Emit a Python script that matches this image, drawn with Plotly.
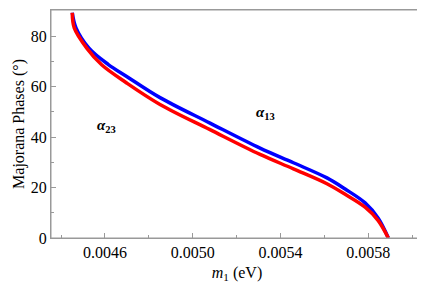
import plotly.graph_objects as go

# alpha_13 (blue)
m1_a13 = [0.004451, 0.004468, 0.004527, 0.004614, 0.004699, 0.004851, 0.005079,
          0.005307, 0.005459, 0.005612, 0.005695, 0.005786, 0.005845, 0.005892]
ph_a13 = [89.2, 83.2, 75.2, 68.8, 64.0, 55.6, 45.5, 35.6, 29.8, 23.8, 19.4, 13.9, 7.9, 0.0]

# alpha_23 (red)
m1_a23 = [0.004451, 0.004460, 0.004517, 0.004585, 0.004699, 0.004851, 0.005079,
          0.005307, 0.005459, 0.005612, 0.005695, 0.005786, 0.005845, 0.005892]
ph_a23 = [89.2, 83.2, 75.2, 68.6, 61.4, 52.9, 42.9, 33.1, 27.4, 21.5, 17.3, 12.2, 7.0, 0.0]

x_ticks = [0.0046, 0.0050, 0.0054, 0.0058]
x_tick_text = ["0.0046", "0.0050", "0.0054", "0.0058"]
y_ticks = [0, 20, 40, 60, 80]

font = "Liberation Serif"

fig = go.Figure()
fig.add_trace(go.Scatter(x=m1_a13, y=ph_a13, mode="lines",
                         line=dict(color="#0000ff", width=3.5, shape="spline", smoothing=1.0),
                         showlegend=False))
fig.add_trace(go.Scatter(x=m1_a23, y=ph_a23, mode="lines",
                         line=dict(color="#ff0000", width=3.5, shape="spline", smoothing=1.0),
                         showlegend=False))

fig.add_annotation(x=0.005330, y=49.5, text="<b><i>α</i><sub>13</sub></b>", showarrow=False,
                   font=dict(family=font, size=15, color="black"))
fig.add_annotation(x=0.004605, y=44.4, text="<b><i>α</i><sub>23</sub></b>", showarrow=False,
                   font=dict(family=font, size=15, color="black"))

# explicit frame around the plot area
fig.add_shape(type="rect", xref="paper", yref="paper", x0=0, y0=0, x1=1, y1=1,
              line=dict(color="#999999", width=1), layer="above")

axis_common = dict(showgrid=False, zeroline=False, showline=True, linecolor="#999999",
                   linewidth=1, mirror=True, ticks="inside", tickcolor="#999999",
                   ticklen=5, tickfont=dict(family=font, size=16, color="black"),
                   automargin=False)

fig.update_xaxes(range=[0.004354, 0.006050], tickvals=x_ticks, ticktext=x_tick_text,
                 minor=dict(dtick=0.0002, tick0=0.0044, ticks="inside", ticklen=3, tickcolor="#999999"),
                 title=dict(text="<i>m</i><sub>1</sub> (eV)", font=dict(family=font, size=16, color="black"),
                            standoff=6),
                 **axis_common)
fig.update_yaxes(range=[0, 90.3], tickvals=y_ticks,
                 minor=dict(dtick=10, tick0=0, ticks="inside", ticklen=3, tickcolor="#999999"),
                 title=dict(text="Majorana Phases (°)", font=dict(family=font, size=16, color="black"),
                            standoff=2),
                 **axis_common)

# page body has an 8px margin, so the figure is shrunk/offset to match the reference frame
fig.update_layout(width=417, height=283, margin=dict(l=43, r=2, t=2, b=53),
                  paper_bgcolor="white", plot_bgcolor="white")

fig.write_html("out.html")
